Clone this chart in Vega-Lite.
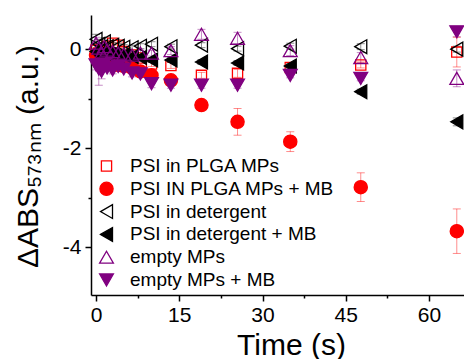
{
  "$schema": "https://vega.github.io/schema/vega-lite/v6.json",
  "width": 373,
  "height": 280,
  "autosize": "none",
  "padding": {"left": 91, "top": 15, "right": 0, "bottom": 64},
  "config": {
    "font": "Liberation Sans",
    "view": {"stroke": null},
    "axis": {
      "grid": false,
      "domainColor": "#000000",
      "domainWidth": 1.5,
      "tickColor": "#000000",
      "tickWidth": 1.5,
      "labelColor": "#000000",
      "labelFontSize": 21,
      "labelFlush": false,
      "labelOverlap": false,
      "titleColor": "#000000",
      "titleFontSize": 30,
      "titleFontWeight": "normal"
    },
    "legend": {
      "orient": "none",
      "legendX": 6,
      "legendY": 141.5,
      "labelFontSize": 19,
      "labelColor": "#000000",
      "symbolStrokeWidth": 1.3,
      "symbolSize": 225,
      "rowPadding": 2.8,
      "labelOffset": 14,
      "padding": 0,
      "labelLimit": 400
    }
  },
  "data": {
    "values": [
      {"s": "PSI in PLGA MPs", "t": 0, "v": -0.02, "e": 0.1},
      {"s": "PSI in PLGA MPs", "t": 0.5, "v": -0.08, "e": 0.08},
      {"s": "PSI in PLGA MPs", "t": 1, "v": -0.12, "e": 0.1},
      {"s": "PSI in PLGA MPs", "t": 1.5, "v": -0.05, "e": 0.08},
      {"s": "PSI in PLGA MPs", "t": 2, "v": 0.06, "e": 0.06},
      {"s": "PSI in PLGA MPs", "t": 3, "v": 0.12, "e": 0.05},
      {"s": "PSI in PLGA MPs", "t": 4, "v": 0.08, "e": 0.05},
      {"s": "PSI in PLGA MPs", "t": 5, "v": -0.05, "e": 0.05},
      {"s": "PSI in PLGA MPs", "t": 6.5, "v": -0.12, "e": 0.05},
      {"s": "PSI in PLGA MPs", "t": 8, "v": -0.18, "e": 0.05},
      {"s": "PSI in PLGA MPs", "t": 10, "v": -0.3, "e": 0.05},
      {"s": "PSI in PLGA MPs", "t": 13.5, "v": -0.33, "e": 0.06},
      {"s": "PSI in PLGA MPs", "t": 19, "v": -0.53, "e": 0.06},
      {"s": "PSI in PLGA MPs", "t": 25.5, "v": -0.49, "e": 0.08},
      {"s": "PSI in PLGA MPs", "t": 35, "v": -0.37, "e": 0.05},
      {"s": "PSI in PLGA MPs", "t": 47.7, "v": -0.32, "e": 0.06},
      {"s": "PSI in PLGA MPs", "t": 65, "v": -0.06, "e": 0.3},

      {"s": "PSI IN PLGA MPs + MB", "t": 0, "v": -0.12, "e": 0.05},
      {"s": "PSI IN PLGA MPs + MB", "t": 0.5, "v": -0.18, "e": 0.05},
      {"s": "PSI IN PLGA MPs + MB", "t": 1, "v": -0.22, "e": 0.05},
      {"s": "PSI IN PLGA MPs + MB", "t": 1.5, "v": -0.25, "e": 0.05},
      {"s": "PSI IN PLGA MPs + MB", "t": 2, "v": -0.28, "e": 0.05},
      {"s": "PSI IN PLGA MPs + MB", "t": 3, "v": -0.3, "e": 0.05},
      {"s": "PSI IN PLGA MPs + MB", "t": 4, "v": -0.32, "e": 0.05},
      {"s": "PSI IN PLGA MPs + MB", "t": 5, "v": -0.34, "e": 0.05},
      {"s": "PSI IN PLGA MPs + MB", "t": 6.5, "v": -0.38, "e": 0.05},
      {"s": "PSI IN PLGA MPs + MB", "t": 8, "v": -0.45, "e": 0.05},
      {"s": "PSI IN PLGA MPs + MB", "t": 10, "v": -0.53, "e": 0.05},
      {"s": "PSI IN PLGA MPs + MB", "t": 13.5, "v": -0.63, "e": 0.05},
      {"s": "PSI IN PLGA MPs + MB", "t": 19, "v": -1.13, "e": 0.05},
      {"s": "PSI IN PLGA MPs + MB", "t": 25.5, "v": -1.47, "e": 0.27},
      {"s": "PSI IN PLGA MPs + MB", "t": 35, "v": -1.87, "e": 0.2},
      {"s": "PSI IN PLGA MPs + MB", "t": 47.7, "v": -2.79, "e": 0.29},
      {"s": "PSI IN PLGA MPs + MB", "t": 65, "v": -3.68, "e": 0.45},

      {"s": "PSI in detergent", "t": 0, "v": 0.2, "e": 0.1},
      {"s": "PSI in detergent", "t": 0.5, "v": 0.1, "e": 0.1},
      {"s": "PSI in detergent", "t": 1, "v": 0.05, "e": 0.08},
      {"s": "PSI in detergent", "t": 1.5, "v": 0.15, "e": 0.08},
      {"s": "PSI in detergent", "t": 2, "v": 0.05, "e": 0.05},
      {"s": "PSI in detergent", "t": 3, "v": 0.08, "e": 0.05},
      {"s": "PSI in detergent", "t": 4, "v": 0.06, "e": 0.05},
      {"s": "PSI in detergent", "t": 5, "v": 0.04, "e": 0.05},
      {"s": "PSI in detergent", "t": 6.5, "v": 0.03, "e": 0.05},
      {"s": "PSI in detergent", "t": 8, "v": 0.06, "e": 0.05},
      {"s": "PSI in detergent", "t": 10, "v": 0.1, "e": 0.05},
      {"s": "PSI in detergent", "t": 13.5, "v": 0.05, "e": 0.05},
      {"s": "PSI in detergent", "t": 19, "v": 0.08, "e": 0.05},
      {"s": "PSI in detergent", "t": 25.5, "v": 0.01, "e": 0.05},
      {"s": "PSI in detergent", "t": 35, "v": 0.06, "e": 0.06},
      {"s": "PSI in detergent", "t": 47.7, "v": 0.05, "e": 0.06},
      {"s": "PSI in detergent", "t": 65, "v": 0.0, "e": 0.06},

      {"s": "PSI in detergent + MB", "t": 0, "v": -0.05, "e": 0.05},
      {"s": "PSI in detergent + MB", "t": 0.5, "v": -0.1, "e": 0.05},
      {"s": "PSI in detergent + MB", "t": 1, "v": -0.15, "e": 0.05},
      {"s": "PSI in detergent + MB", "t": 1.5, "v": -0.08, "e": 0.05},
      {"s": "PSI in detergent + MB", "t": 2, "v": -0.12, "e": 0.05},
      {"s": "PSI in detergent + MB", "t": 3, "v": -0.1, "e": 0.05},
      {"s": "PSI in detergent + MB", "t": 4, "v": -0.14, "e": 0.05},
      {"s": "PSI in detergent + MB", "t": 5, "v": -0.12, "e": 0.05},
      {"s": "PSI in detergent + MB", "t": 6.5, "v": -0.15, "e": 0.05},
      {"s": "PSI in detergent + MB", "t": 8, "v": -0.17, "e": 0.05},
      {"s": "PSI in detergent + MB", "t": 10, "v": -0.22, "e": 0.05},
      {"s": "PSI in detergent + MB", "t": 13.5, "v": -0.22, "e": 0.05},
      {"s": "PSI in detergent + MB", "t": 19, "v": -0.26, "e": 0.05},
      {"s": "PSI in detergent + MB", "t": 25.5, "v": -0.28, "e": 0.05},
      {"s": "PSI in detergent + MB", "t": 35, "v": -0.34, "e": 0.05},
      {"s": "PSI in detergent + MB", "t": 47.7, "v": -0.86, "e": 0.05},
      {"s": "PSI in detergent + MB", "t": 65, "v": -1.47, "e": 0.08},

      {"s": "empty MPs", "t": 0, "v": 0.12, "e": 0.12},
      {"s": "empty MPs", "t": 0.5, "v": 0.02, "e": 0.1},
      {"s": "empty MPs", "t": 1, "v": -0.08, "e": 0.1},
      {"s": "empty MPs", "t": 1.5, "v": 0.05, "e": 0.08},
      {"s": "empty MPs", "t": 2, "v": -0.02, "e": 0.06},
      {"s": "empty MPs", "t": 3, "v": -0.05, "e": 0.06},
      {"s": "empty MPs", "t": 4, "v": -0.08, "e": 0.06},
      {"s": "empty MPs", "t": 5, "v": -0.1, "e": 0.06},
      {"s": "empty MPs", "t": 6.5, "v": -0.12, "e": 0.06},
      {"s": "empty MPs", "t": 8, "v": -0.08, "e": 0.06},
      {"s": "empty MPs", "t": 10, "v": -0.08, "e": 0.06},
      {"s": "empty MPs", "t": 13.5, "v": -0.03, "e": 0.08},
      {"s": "empty MPs", "t": 19, "v": 0.3, "e": 0.1},
      {"s": "empty MPs", "t": 25.5, "v": 0.22, "e": 0.12},
      {"s": "empty MPs", "t": 35, "v": -0.03, "e": 0.1},
      {"s": "empty MPs", "t": 47.7, "v": -0.17, "e": 0.1},
      {"s": "empty MPs", "t": 65, "v": -0.59, "e": 0.17},

      {"s": "empty MPs + MB", "t": 0, "v": -0.32, "e": 0.1},
      {"s": "empty MPs + MB", "t": 0.5, "v": -0.4, "e": 0.33},
      {"s": "empty MPs + MB", "t": 1, "v": -0.45, "e": 0.15},
      {"s": "empty MPs + MB", "t": 1.5, "v": -0.3, "e": 0.1},
      {"s": "empty MPs + MB", "t": 2, "v": -0.38, "e": 0.08},
      {"s": "empty MPs + MB", "t": 3, "v": -0.42, "e": 0.08},
      {"s": "empty MPs + MB", "t": 4, "v": -0.35, "e": 0.06},
      {"s": "empty MPs + MB", "t": 5, "v": -0.4, "e": 0.06},
      {"s": "empty MPs + MB", "t": 6.5, "v": -0.48, "e": 0.08},
      {"s": "empty MPs + MB", "t": 8, "v": -0.5, "e": 0.06},
      {"s": "empty MPs + MB", "t": 10, "v": -0.7, "e": 0.08},
      {"s": "empty MPs + MB", "t": 13.5, "v": -0.73, "e": 0.06},
      {"s": "empty MPs + MB", "t": 19, "v": -0.73, "e": 0.06},
      {"s": "empty MPs + MB", "t": 25.5, "v": -0.73, "e": 0.06},
      {"s": "empty MPs + MB", "t": 35, "v": -0.53, "e": 0.05},
      {"s": "empty MPs + MB", "t": 47.7, "v": -0.59, "e": 0.05},
      {"s": "empty MPs + MB", "t": 65, "v": 0.35, "e": 0.1}
    ]
  },
  "encoding": {
    "x": {
      "field": "t",
      "type": "quantitative",
      "scale": {"domain": [-0.9, 66.3], "nice": false, "zero": false},
      "axis": {
        "title": "Time (s)",
        "values": [0, 7.5, 15, 22.5, 30, 37.5, 45, 52.5, 60],
        "labelExpr": "datum.value % 15 == 0 ? datum.label : ''",
        "tickSize": {"condition": {"test": "datum.value % 15 != 0", "value": 3}, "value": 6},
        "labelPadding": 3,
        "titleX": 200,
        "titleY": 59,
        "titleAlign": "center",
        "titleBaseline": "alphabetic"
      }
    },
    "y": {
      "field": "v",
      "type": "quantitative",
      "scale": {"domain": [-4.97, 0.69], "nice": false, "zero": false},
      "axis": {
        "title": "ΔABS₅₇₃ₙₘ (a.u.)",
        "values": [-4, -3, -2, -1, 0],
        "labelExpr": "datum.value % 2 == 0 ? datum.value + '' : ''",
        "tickSize": {"condition": {"test": "datum.value % 2 != 0", "value": 3}, "value": 6},
        "labelPadding": 4,
        "titleX": -54,
        "titleY": 141,
        "titleAngle": 270,
        "titleAlign": "center",
        "titleBaseline": "alphabetic"
      }
    }
  },
  "layer": [
    {
      "mark": {"type": "errorbar", "ticks": {"size": 8, "thickness": 1}, "thickness": 1, "opacity": 0.45},
      "encoding": {
        "yError": {"field": "e"},
        "color": {
          "field": "s",
          "type": "nominal",
          "scale": {
            "domain": ["empty MPs + MB", "empty MPs", "PSI in detergent + MB", "PSI in detergent", "PSI IN PLGA MPs + MB", "PSI in PLGA MPs"],
            "range": ["#800080", "#800080", "#000000", "#000000", "#ff0000", "#ff0000"]
          },
          "legend": null
        }
      }
    },
    {
      "mark": {"type": "point", "opacity": 1, "strokeWidth": 1.3, "size": 225},
      "encoding": {
        "stroke": {
          "field": "s",
          "type": "nominal",
          "scale": {
            "domain": ["PSI in PLGA MPs", "PSI IN PLGA MPs + MB", "PSI in detergent", "PSI in detergent + MB", "empty MPs", "empty MPs + MB"],
            "range": ["#ff0000", "#ff0000", "#000000", "#000000", "#800080", "#800080"]
          },
          "legend": {"title": null}
        },
        "fill": {
          "field": "s",
          "type": "nominal",
          "scale": {
            "domain": ["PSI in PLGA MPs", "PSI IN PLGA MPs + MB", "PSI in detergent", "PSI in detergent + MB", "empty MPs", "empty MPs + MB"],
            "range": ["transparent", "#ff0000", "transparent", "#000000", "transparent", "#800080"]
          },
          "legend": {"title": null}
        },
        "shape": {
          "field": "s",
          "type": "nominal",
          "scale": {
            "domain": ["PSI in PLGA MPs", "PSI IN PLGA MPs + MB", "PSI in detergent", "PSI in detergent + MB", "empty MPs", "empty MPs + MB"],
            "range": [
              "M-0.68,-0.68L0.68,-0.68L0.68,0.68L-0.68,0.68Z",
              "M0.88,0A0.88,0.88 0 1,1 -0.88,0A0.88,0.88 0 1,1 0.88,0Z",
              "M-0.8,0L0.8,-0.92L0.8,0.92Z",
              "M-0.8,0L0.8,-0.92L0.8,0.92Z",
              "M0,-0.8L0.92,0.8L-0.92,0.8Z",
              "M0,0.8L0.92,-0.8L-0.92,-0.8Z"
            ]
          },
          "legend": {"title": null}
        }
      }
    }
  ]
}
